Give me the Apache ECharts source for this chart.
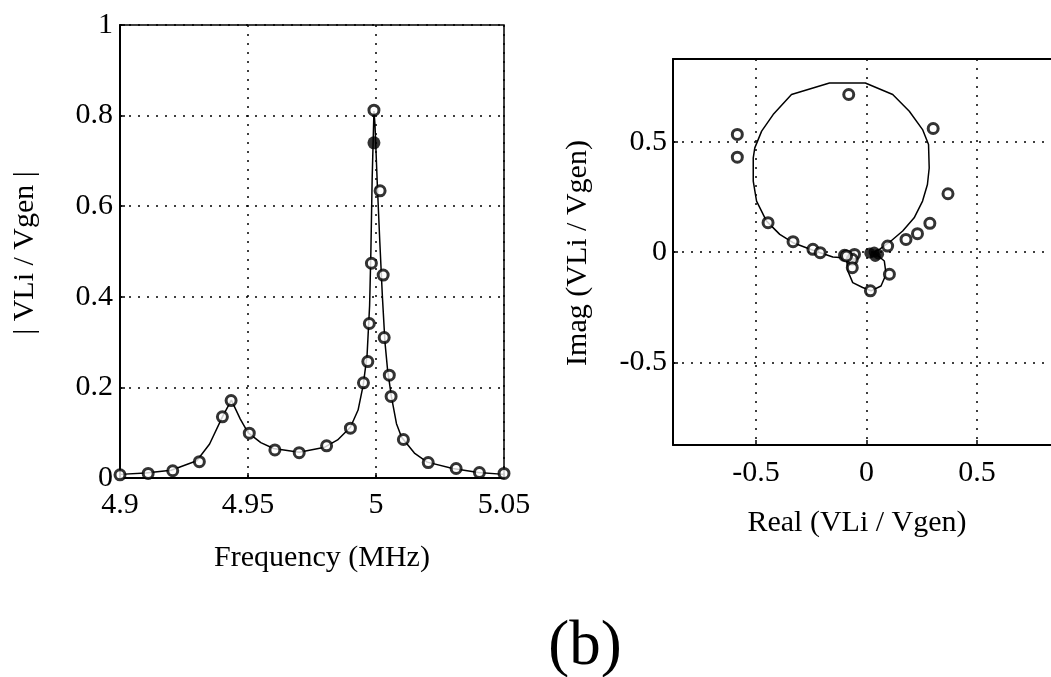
<!DOCTYPE html>
<html>
<head>
<meta charset="utf-8">
<script src="https://cdn.jsdelivr.net/npm/echarts@6/dist/echarts.min.js"></script>
<style>html,body{margin:0;padding:0;background:#fff;}#c{width:1051px;height:677px;}</style>
</head>
<body>
<div id="c"></div>
<script>
// ---- Left panel: |VLi / Vgen| vs frequency ----
var measFreq = [4.9, 4.911, 4.9206, 4.931, 4.940, 4.9434, 4.9505, 4.9605, 4.970, 4.9807, 4.990, 4.9951, 4.9968, 4.9974, 4.9982, 4.9992, 5.0016, 5.0028, 5.0032, 5.0052, 5.0059, 5.0107, 5.0204, 5.0313, 5.0404, 5.05];
var measMag  = [0.007, 0.010, 0.016, 0.036, 0.135, 0.171, 0.099, 0.062, 0.056, 0.071, 0.110, 0.210, 0.257, 0.341, 0.474, 0.812, 0.634, 0.448, 0.310, 0.227, 0.180, 0.085, 0.034, 0.021, 0.012, 0.010];
var modelFreq = [4.9, 4.91, 4.92, 4.93, 4.935, 4.94, 4.9435, 4.947, 4.95, 4.955, 4.96, 4.97, 4.98, 4.985, 4.99, 4.993, 4.995, 4.9965, 4.9975, 4.998, 4.9985, 4.9992, 4.9996, 5.0005, 5.0015, 5.0025, 5.0035, 5.0045, 5.006, 5.008, 5.01, 5.015, 5.02, 5.03, 5.04, 5.05];
var modelMag  = [0.008, 0.011, 0.017, 0.038, 0.075, 0.135, 0.172, 0.130, 0.100, 0.078, 0.065, 0.057, 0.068, 0.084, 0.112, 0.150, 0.205, 0.270, 0.380, 0.500, 0.660, 0.810, 0.780, 0.650, 0.520, 0.400, 0.300, 0.240, 0.180, 0.120, 0.090, 0.055, 0.035, 0.021, 0.012, 0.008];
var solidFreq = [4.9992];
var solidMag  = [0.740];
var freqTicks = [4.9, 4.95, 5, 5.05];
var magTicks  = [0, 0.2, 0.4, 0.6, 0.8, 1];

// ---- Right panel: Imag vs Real ----
var measReal = [-0.080, -0.584, -0.584, 0.302, 0.369, 0.287, 0.231, 0.179, 0.096, -0.445, -0.332, -0.242, -0.209, -0.099, -0.054, -0.064, -0.064, 0.104, 0.018, -0.090];
var measImag = [0.714, 0.533, 0.430, 0.560, 0.264, 0.130, 0.083, 0.057, 0.027, 0.133, 0.047, 0.012, -0.003, -0.015, -0.011, -0.033, -0.071, -0.101, -0.176, -0.018];
var modelReal = [0.029, 0.059, 0.111, 0.164, 0.216, 0.254, 0.276, 0.284, 0.281, 0.254, 0.194, 0.119, -0.005, -0.167, -0.339, -0.422, -0.474, -0.505, -0.512, -0.512, -0.497, -0.452, -0.392, -0.332, -0.242, -0.152, -0.107, -0.092, -0.084, -0.062, -0.017, 0.021, 0.066, 0.089, 0.081, 0.036];
var modelImag = [-0.003, 0.012, 0.050, 0.095, 0.155, 0.231, 0.306, 0.381, 0.487, 0.555, 0.638, 0.714, 0.766, 0.766, 0.714, 0.623, 0.548, 0.472, 0.427, 0.321, 0.231, 0.140, 0.080, 0.042, 0.008, -0.023, -0.026, -0.011, -0.086, -0.139, -0.161, -0.176, -0.154, -0.101, -0.041, -0.003];
var solidReal = [0.015, 0.035, 0.055, 0.040];
var solidImag = [-0.005, 0.000, -0.010, -0.020];
var cplxTicks = [-0.5, 0, 0.5];

function zip(a, b) { return a.map(function (v, i) { return [v, b[i]]; }); }

var FONT = 'Liberation Serif';
var dotted = { color: '#000', width: 1.5, type: [2, 7] };
function valAxis(idx, min, max, ticks, margin) {
  return {
    type: 'value', gridIndex: idx, min: min, max: max,
    axisLine: { show: true, onZero: false, lineStyle: { color: '#000', width: 2 } },
    axisTick: { show: true, inside: true, length: 5, customValues: ticks, lineStyle: { color: '#000', width: 1.5 } },
    axisLabel: { customValues: ticks, color: '#000', fontFamily: FONT, fontSize: 30, margin: margin,
                 showMinLabel: true, showMaxLabel: true },
    splitLine: { show: true, lineStyle: dotted }
  };
}
function topAxis(idx, min, max) {
  return {
    type: 'value', gridIndex: idx, position: 'top', min: min, max: max,
    axisLine: { show: true, onZero: false, lineStyle: { color: '#000', width: 2 } },
    axisTick: { show: false }, axisLabel: { show: false }, splitLine: { show: false }
  };
}
var openSym = { color: '#fff', borderColor: '#000', borderWidth: 3 };

var chart = echarts.init(document.getElementById('c'), null, { renderer: 'canvas' });
chart.setOption({
  backgroundColor: '#fff',
  animation: false,
  grid: [
    { left: 120, top: 25, width: 384, height: 453, show: true, borderColor: '#000', borderWidth: 1.5, backgroundColor: 'transparent' },
    { left: 673, top: 59, width: 379, height: 386, show: false }
  ],
  xAxis: [
    valAxis(0, 4.9, 5.05, freqTicks, 12),
    valAxis(1, -0.875, 0.835, cplxTicks, 13),
    topAxis(1, -0.875, 0.835)
  ],
  yAxis: [
    valAxis(0, 0, 1, magTicks, 7),
    valAxis(1, -0.875, 0.875, cplxTicks, 6)
  ],
  series: [
    { type: 'line', xAxisIndex: 0, yAxisIndex: 0, data: zip(modelFreq, modelMag), showSymbol: false,
      lineStyle: { color: '#000', width: 1.5 }, z: 2 },
    { type: 'scatter', xAxisIndex: 0, yAxisIndex: 0, data: zip(measFreq, measMag), symbol: 'circle', symbolSize: 10,
      itemStyle: openSym, z: 3 },
    { type: 'scatter', xAxisIndex: 0, yAxisIndex: 0, data: zip(solidFreq, solidMag), symbol: 'circle', symbolSize: 13,
      itemStyle: { color: '#000' }, z: 4 },
    { type: 'line', xAxisIndex: 1, yAxisIndex: 1, data: zip(modelReal, modelImag), showSymbol: false,
      lineStyle: { color: '#000', width: 1.5 }, z: 2 },
    { type: 'scatter', xAxisIndex: 1, yAxisIndex: 1, data: zip(measReal, measImag), symbol: 'circle', symbolSize: 10,
      itemStyle: openSym, z: 3 },
    { type: 'scatter', xAxisIndex: 1, yAxisIndex: 1, data: zip(solidReal, solidImag), symbol: 'circle', symbolSize: 11,
      itemStyle: { color: '#000' }, z: 4 }
  ],
  graphic: [
    { type: 'text', x: 322, y: 558, style: { text: 'Frequency (MHz)', fontFamily: FONT, fontSize: 30, fill: '#000', align: 'center', verticalAlign: 'middle' } },
    { type: 'text', x: 25, y: 253, rotation: Math.PI / 2, style: { text: '| VLi / Vgen |', fontFamily: FONT, fontSize: 30, fill: '#000', align: 'center', verticalAlign: 'middle' } },
    { type: 'text', x: 857, y: 523, style: { text: 'Real (VLi / Vgen)', fontFamily: FONT, fontSize: 30, fill: '#000', align: 'center', verticalAlign: 'middle' } },
    { type: 'text', x: 578, y: 253, rotation: Math.PI / 2, style: { text: 'Imag (VLi / Vgen)', fontFamily: FONT, fontSize: 30, fill: '#000', align: 'center', verticalAlign: 'middle' } },
    { type: 'text', x: 585, y: 647, style: { text: '(b)', fontFamily: FONT, fontSize: 63, fill: '#000', align: 'center', verticalAlign: 'middle' } }
  ]
});
</script>
</body>
</html>
